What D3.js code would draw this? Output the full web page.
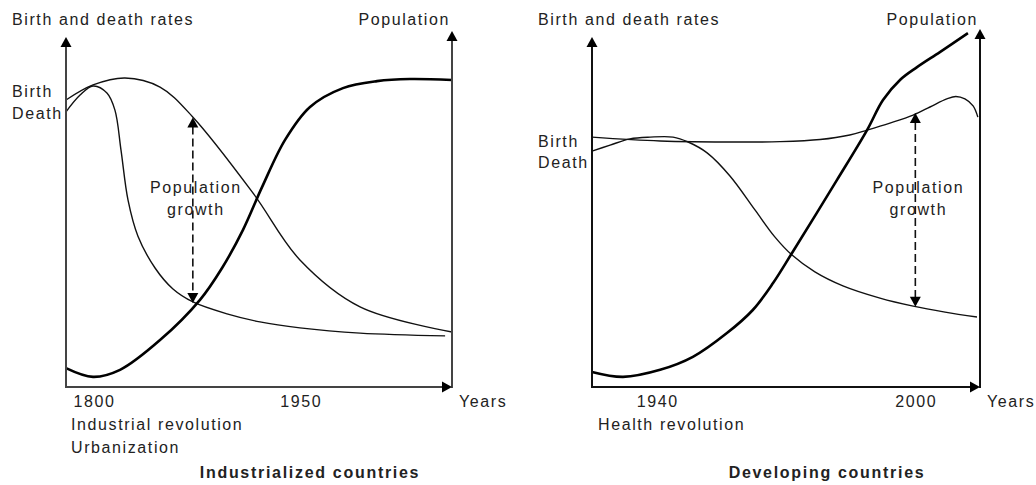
<!DOCTYPE html>
<html>
<head>
<meta charset="utf-8">
<script src="https://cdn.jsdelivr.net/npm/d3@7"></script>
<style>
body { margin: 0; background: #fff; }
text { font-family: "Liberation Sans", Arial, sans-serif; font-size: 16px; fill: #222; letter-spacing: 1.6px; }
.title { font-weight: bold; letter-spacing: 1.7px; }
</style>
</head>
<body>
<svg id="canvas" width="1036" height="485"></svg>
<script>
// industrialized countries: [year, level 0-100]
let indBirth = [[1780,82.0],[1799.6,86.3],[1822.8,88.3],[1848.2,85.7],[1872.1,77.1],[1915.7,55.4],
  [1949.7,36.3],[1993.3,22.9],[2060,15.7]]
let indDeath = [[1780,78.6],[1790.2,83.4],[1799.6,86.0],[1809.7,84.0],[1815.5,79.1],[1819.9,67.7],
  [1825,53.4],[1832.2,43.1],[1844.6,34.0],[1857.6,28.0],[1872.1,24.3],[1896.8,20.9],[1920.7,18.6],
  [1949.7,16.9],[1993.3,15.4],[2055,14.6]]
let indPop = [[1780,5.4],[1799.6,2.9],[1819.2,4.9],[1848.2,13.4],[1877.2,24.9],[1893.2,34.0],
  [1908.4,44.9],[1922.2,57.1],[1938.9,70.6],[1957,80.0],[1980.9,85.4],[2005.6,87.4],[2029.5,88.0],[2060,87.7]]
let indTicks = [1800, 1950]
let indNotes = ["Industrial revolution", "Urbanization"]
let indGrowth = [1872, 77, 24]   // year, top, bottom

// developing countries
let devBirth = [[1925,71.4],[1940.8,70.3],[1959.3,70.0],[1968.6,70.1],[1977.9,70.7],[1984.8,72.0],[1988.8,73.4],
  [1994.1,75.4],[1999.5,77.7],[2003.4,80.0],[2007.3,82.3],[2009.4,83.0],[2011.5,82.3],[2013.4,80.3],[2014.5,77.1]]
let devDeath = [[1925,67.4],[1929.2,69.1],[1933.8,70.9],[1938.5,71.4],[1943.8,71.4],[1947.3,70.0],
  [1951.7,66.9],[1957,60.3],[1962.8,50.6],[1967.4,42.9],[1971.4,37.7],[1976.7,32.9],[1983.2,28.9],
  [1991.8,25.4],[1999.5,23.1],[2006.9,21.4],[2014.3,20.0]]
let devPop = [[1925,4.3],[1932.2,2.9],[1940.8,4.9],[1948.4,8.6],[1956.3,15.4],[1962.3,22.0],[1967,29.7],
  [1971.4,38.3],[1981.8,59.1],[1988.8,73.4],[1992.5,82.0],[1996.5,87.8],[2000.4,91.4],[2005.7,95.7],[2012.2,101.1]]
let devTicks = [1940, 2000]
let devNotes = ["Health revolution"]
let devGrowth = [2000, 78.3, 22.9]

let panels = [
  { left: 66, right: 452, rightTip: 31, years: [1780, 2060], birth: indBirth, death: indDeath, pop: indPop,
    ticks: indTicks, notes: indNotes, growth: indGrowth, title: "Industrialized countries",
    labelX: 12, birthY: 97, deathY: 119, titleX: 310, noteX: 71, axisColor: "#444" },
  { left: 592, right: 980, rightTip: 29, years: [1925, 2015], birth: devBirth, death: devDeath, pop: devPop,
    ticks: devTicks, notes: devNotes, growth: devGrowth, title: "Developing countries",
    labelX: 538, birthY: 147, deathY: 168, titleX: 827, noteX: 598, axisColor: "#111" }
]

let canvas = d3.select("#canvas")
let bottom = 387
let leftTip = 37

let head = (g, x, y, dir) => {
  let w = 5.5, h = 10
  let pts
  if (dir === "up") pts = [[x, y], [x - w, y + h], [x + w, y + h]]
  else if (dir === "down") pts = [[x, y], [x - w, y - h], [x + w, y - h]]
  else pts = [[x, y], [x - h, y - w], [x - h, y + w]]
  g.append("path").attr("d", "M" + pts.join("L") + "Z").attr("fill", "#000")
}

let drawPanel = (p) => {
  let x = d3.scaleLinear().domain(p.years).range([p.left, p.right])
  let y = d3.scaleLinear().domain([0, 100]).range([bottom, leftTip])
  let g = canvas.append("g")

  let line = d3.line()
    .x((d) => x(d[0]))
    .y((d) => y(d[1]))
    .curve(d3.curveCatmullRom.alpha(0.5))

  // curves
  g.append("path").attr("d", line(p.birth)).attr("fill", "none").attr("stroke", "#111").attr("stroke-width", 1.4)
  g.append("path").attr("d", line(p.death)).attr("fill", "none").attr("stroke", "#111").attr("stroke-width", 1.4)
  g.append("path").attr("d", line(p.pop)).attr("fill", "none").attr("stroke", "#000").attr("stroke-width", 2.6)

  // axes
  g.append("line").attr("x1", p.left).attr("x2", p.left).attr("y1", bottom + 1).attr("y2", leftTip + 8)
    .attr("stroke", p.axisColor).attr("stroke-width", 2)
  head(g, p.left, leftTip, "up")
  g.append("line").attr("x1", p.right).attr("x2", p.right).attr("y1", bottom + 1).attr("y2", p.rightTip + 8)
    .attr("stroke", p.axisColor).attr("stroke-width", 2)
  head(g, p.right, p.rightTip, "up")
  g.append("line").attr("x1", p.left - 1).attr("x2", p.right - 8).attr("y1", bottom).attr("y2", bottom)
    .attr("stroke", p.axisColor).attr("stroke-width", 2)
  head(g, p.right, bottom, "right")

  // population growth arrow
  let gx = x(p.growth[0])
  g.append("line").attr("x1", gx).attr("x2", gx)
    .attr("y1", y(p.growth[1]) + 9).attr("y2", y(p.growth[2]) - 9)
    .attr("stroke", "#111").attr("stroke-width", 1.6).attr("stroke-dasharray", "8,4")
  head(g, gx, y(p.growth[1]), "up")
  head(g, gx, y(p.growth[2]), "down")
  g.append("text").attr("x", gx + 3).attr("y", 193).attr("text-anchor", "middle").text("Population")
  g.append("text").attr("x", gx + 3).attr("y", 215).attr("text-anchor", "middle").text("growth")

  // labels
  g.append("text").attr("x", p.labelX).attr("y", 25).text("Birth and death rates")
  g.append("text").attr("x", p.right - 2).attr("y", 25).attr("text-anchor", "end").text("Population")
  g.append("text").attr("x", p.labelX).attr("y", p.birthY).text("Birth")
  g.append("text").attr("x", p.labelX).attr("y", p.deathY).text("Death")
  g.append("text").attr("x", p.right + 7).attr("y", 407).text("Years")

  g.selectAll(".tick").data(p.ticks).enter().append("text")
    .attr("x", (d) => x(d) + 1).attr("y", 407).attr("text-anchor", "middle").text((d) => d)

  g.selectAll(".note").data(p.notes).enter().append("text")
    .attr("x", p.noteX).attr("y", (d, i) => 430 + i * 23).text((d) => d)

  g.append("text").attr("class", "title").attr("x", p.titleX).attr("y", 478)
    .attr("text-anchor", "middle").text(p.title)
}

panels.forEach(drawPanel)
</script>
</body>
</html>
